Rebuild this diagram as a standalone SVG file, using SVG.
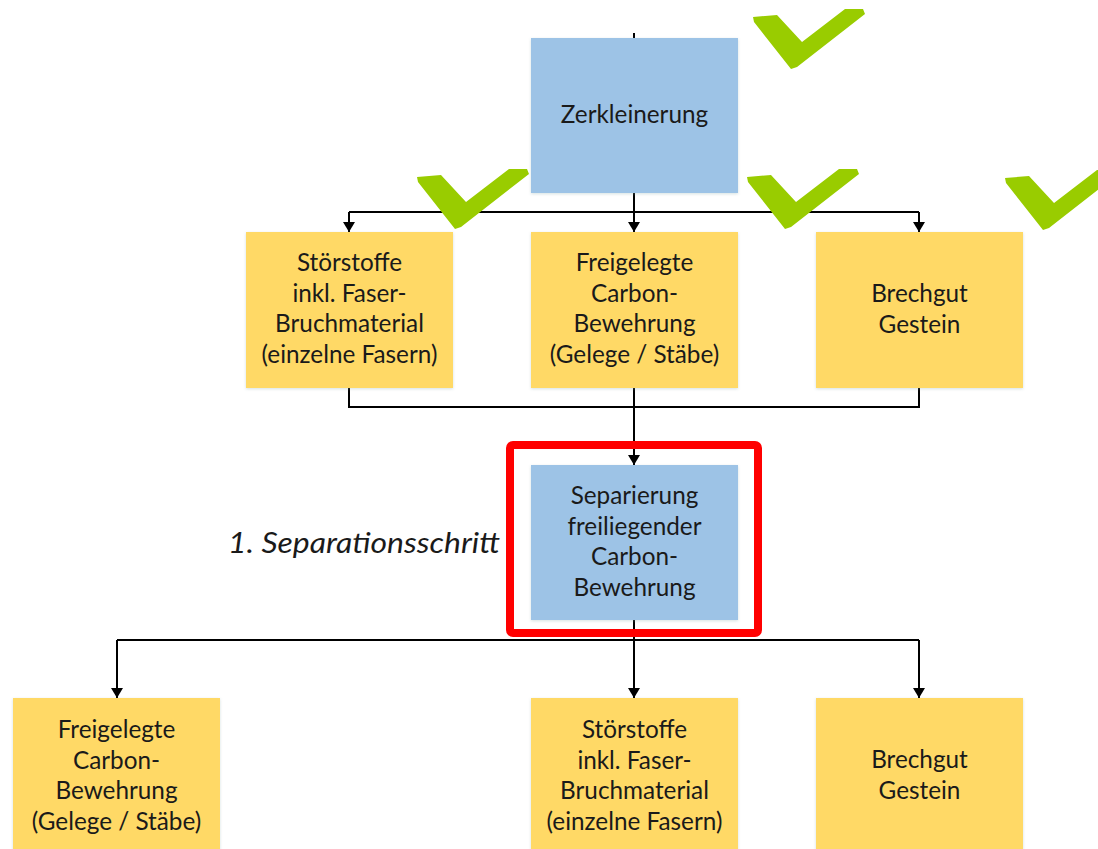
<svg xmlns="http://www.w3.org/2000/svg" width="1098" height="849" viewBox="0 0 1098 849">
<style>
.blue{fill:#9DC3E6}
.yellow{fill:#FFD966}
.box{filter:url(#sh)}
.t{font-family:Lato,"Open Sans","Liberation Sans",sans-serif;font-size:24.3px;fill:#1a1a1a;text-anchor:middle}
.lbl{font-family:Lato,"Open Sans","Liberation Sans",sans-serif;font-size:29px;font-style:italic;fill:#1a1a1a;text-anchor:end}
.c{fill:none;stroke:#000;stroke-width:2}
.ca{fill:none;stroke:#000;stroke-width:2;marker-end:url(#ar)}
.chk{fill:#99CC00}
</style>
<defs>
<filter id="sh" x="-10%" y="-10%" width="120%" height="120%">
<feDropShadow dx="0" dy="1" stdDeviation="1.5" flood-color="#8aa" flood-opacity="0.35"/>
</filter>
<marker id="ar" markerWidth="12" markerHeight="12" refX="10" refY="6" orient="auto" markerUnits="userSpaceOnUse">
<path d="M0,0 L10,6 L0,12 Z" fill="#000"/>
</marker>
<path id="check" d="M0,0 L24,-2 L49,25 L92,-8 L110,-8 L112,-3 L44,50 L38,52 L1,5 Z"/>
</defs>
<g id="connectors">
<line class="c" x1="634" y1="33" x2="634" y2="38"/>
<line class="c" x1="634" y1="193" x2="634" y2="212"/>
<polyline class="c" points="349,212 919,212"/>
<line class="ca" x1="349" y1="212" x2="349" y2="232"/>
<line class="ca" x1="634" y1="212" x2="634" y2="232"/>
<line class="ca" x1="919" y1="212" x2="919" y2="232"/>
<polyline class="c" points="349,388 349,407 919,407 919,388"/>
<line class="ca" x1="634" y1="388" x2="634" y2="465"/>
<line class="c" x1="634" y1="620" x2="634" y2="640"/>
<polyline class="c" points="117,640 919,640"/>
<line class="ca" x1="117" y1="640" x2="117" y2="698"/>
<line class="ca" x1="634" y1="640" x2="634" y2="698"/>
<line class="ca" x1="919" y1="640" x2="919" y2="698"/>
</g>
<g id="n-zerkleinerung">
<rect class="box blue" x="531" y="38" width="207" height="155"/>
<text class="t" x="634.5" y="123">Zerkleinerung</text>
</g>
<g id="n-stoer1">
<rect class="box yellow" x="246" y="232" width="207" height="156"/>
<text class="t" x="349.5" y="271">Störstoffe</text>
<text class="t" x="349.5" y="301.5">inkl. Faser-</text>
<text class="t" x="349.5" y="332">Bruchmaterial</text>
<text class="t" x="349.5" y="362.5">(einzelne Fasern)</text>
</g>
<g id="n-frei1">
<rect class="box yellow" x="531" y="232" width="207" height="156"/>
<text class="t" x="634.5" y="271">Freigelegte</text>
<text class="t" x="634.5" y="301.5">Carbon-</text>
<text class="t" x="634.5" y="332">Bewehrung</text>
<text class="t" x="634.5" y="362.5">(Gelege / Stäbe)</text>
</g>
<g id="n-brech1">
<rect class="box yellow" x="816" y="232" width="207" height="156"/>
<text class="t" x="919.5" y="302">Brechgut</text>
<text class="t" x="919.5" y="332.5">Gestein</text>
</g>
<g id="n-separierung">
<rect class="box blue" x="531" y="465" width="207" height="155"/>
<text class="t" x="634.5" y="504">Separierung</text>
<text class="t" x="634.5" y="534.5">freiliegender</text>
<text class="t" x="634.5" y="565">Carbon-</text>
<text class="t" x="634.5" y="595.5">Bewehrung</text>
</g>
<g id="highlight">
<rect x="510" y="445" width="248" height="188" rx="3" fill="none" stroke="#FF0000" stroke-width="8"/>
</g>
<g id="label">
<text class="lbl" x="500" y="553" textLength="272" lengthAdjust="spacingAndGlyphs">1. Separationsschritt</text>
</g>
<g id="n-frei2">
<rect class="box yellow" x="13" y="698" width="207" height="160"/>
<text class="t" x="116.5" y="738">Freigelegte</text>
<text class="t" x="116.5" y="768.5">Carbon-</text>
<text class="t" x="116.5" y="799">Bewehrung</text>
<text class="t" x="116.5" y="829.5">(Gelege / Stäbe)</text>
</g>
<g id="n-stoer2">
<rect class="box yellow" x="531" y="698" width="207" height="160"/>
<text class="t" x="634.5" y="738">Störstoffe</text>
<text class="t" x="634.5" y="768.5">inkl. Faser-</text>
<text class="t" x="634.5" y="799">Bruchmaterial</text>
<text class="t" x="634.5" y="829.5">(einzelne Fasern)</text>
</g>
<g id="n-brech2">
<rect class="box yellow" x="816" y="698" width="207" height="160"/>
<text class="t" x="919.5" y="768">Brechgut</text>
<text class="t" x="919.5" y="798.5">Gestein</text>
</g>
<g id="checks">
<use href="#check" class="chk" x="753" y="17"/>
<use href="#check" class="chk" x="417" y="177"/>
<use href="#check" class="chk" x="747" y="177"/>
<use href="#check" class="chk" x="1005" y="178"/>
</g>
</svg>
